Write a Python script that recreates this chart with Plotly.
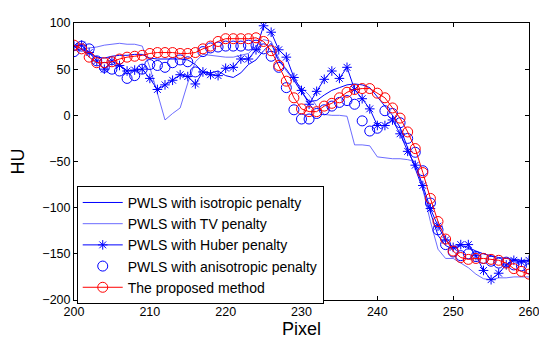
import plotly.graph_objects as go

pixel = list(range(200, 261))

isotropic = [70, 72, 68, 63, 62, 64, 65, 65, 66, 66,
             62, 61, 61, 61, 61, 60, 55, 47, 46, 48,
             43, 41, 46, 55, 60, 70, 78, 59, 50, 38,
             25, 15, 16, 22, 27, 30, 33, 34, 33, 30,
             20, 10, 0, -13, -35, -58, -80, -105, -130, -141,
             -145, -141, -143, -147, -150, -152, -154, -155, -156, -157,
             -158]

tv = [70, 72, 73, 74, 76, 77, 78, 77, 77, 75,
      52, 24, -5, 2, 8, 35, 58, 66, 65, 64,
      63, 63, 65, 67, 75, 82, 80, 62, 48, 38,
      30, 22, 10, 1, 0, 0, -1, -32, -32, -33,
      -45, -46, -47, -47, -48, -50, -80, -115, -145, -155,
      -155, -160, -165, -172, -177, -178, -176, -176, -175, -175,
      -175]

huber = [75, 76, 68, 59, 50, 59, 54, 48, 49, 50,
         40, 28, 33, 38, 44, 42, 34, 47, 44, 43,
         51, 52, 61, 61, 71, 97, 90, 71, 63, 41,
         27, 12, 26, 39, 48, 40, 52, 28, 18, 7,
         -11, -11, -5, -20, -39, -54, -76, -101, -120, -135,
         -143, -140, -140, -152, -168, -178, -171, -162, -157, -159,
         -157]

anisotropic = [69, 75, 72, 59, 52, 50, 48, 40, 43, 50,
               55, 54, 52, 57, 60, 58, 47, 69, 73, 74,
               75, 75, 75, 76, 76, 72, 64, 52, 30, 6,
               -4, -4, 2, 6, 10, 14, 16, 12, -6, -17,
               -14, 5, 2, -8, -25, -40, -60, -95, -124, -140,
               -148, -152, -150, -153, -155, -158, -160, -159, -162, -163,
               -166]

proposed = [76, 72, 63, 57, 57, 58, 61, 63, 64, 65,
            67, 68, 68, 68, 67, 67, 68, 72, 75, 80,
            83, 83, 83, 83, 84, 80, 70, 54, 37, 19,
            7, 4, 4, 10, 13, 19, 25, 28, 29, 29,
            24, 19, 8, -3, -18, -36, -62, -90, -115, -134,
            -147, -154, -156, -155, -155, -156, -157, -160, -166, -169,
            -172]

x_ticks = [200, 210, 220, 230, 240, 250, 260]
y_ticks = [-200, -150, -100, -50, 0, 50, 100]

BLUE = "#0000FF"
RED = "#FF0000"
FONT = "Liberation Sans, Arial"

fig = go.Figure()
fig.add_trace(go.Scatter(x=pixel, y=isotropic, mode="lines",
                         line=dict(color=BLUE, width=1),
                         name="PWLS with isotropic penalty"))
fig.add_trace(go.Scatter(x=pixel, y=tv, mode="lines",
                         line=dict(color="rgb(70,70,255)", width=0.8),
                         name="PWLS with TV penalty"))
fig.add_trace(go.Scatter(x=pixel, y=huber, mode="lines+markers",
                         line=dict(color=BLUE, width=1),
                         marker=dict(symbol="asterisk-open", size=8,
                                     line=dict(color=BLUE, width=1)),
                         name="PWLS with Huber penalty"))
fig.add_trace(go.Scatter(x=pixel, y=anisotropic, mode="markers",
                         marker=dict(symbol="circle-open", size=10,
                                     color=BLUE, line=dict(color=BLUE, width=1)),
                         name="PWLS with anisotropic penalty"))
fig.add_trace(go.Scatter(x=pixel, y=proposed, mode="lines+markers",
                         line=dict(color=RED, width=1),
                         marker=dict(symbol="circle-open", size=10,
                                     color=RED, line=dict(color=RED, width=1)),
                         name="The proposed method"))

axis_common = dict(showline=True, linecolor="black", linewidth=1,
                   mirror="ticks", ticks="inside", ticklen=4,
                   tickcolor="black", showgrid=False, zeroline=False,
                   ticklabeloverflow="allow",
                   tickfont=dict(family=FONT, size=12.5, color="black"))

# page body has an 8px default margin, so the figure is shrunk by 8px
fig.update_layout(
    width=539, height=339,
    margin=dict(l=59, r=10, t=8, b=47),
    paper_bgcolor="white", plot_bgcolor="white",
    xaxis=dict(range=[200, 260], tickvals=x_ticks,
               title=dict(text="Pixel", standoff=0,
                          font=dict(family=FONT, size=18, color="black")),
               **axis_common),
    yaxis=dict(range=[-200, 100], tickvals=y_ticks,
               title=dict(text="HU", standoff=14,
                          font=dict(family=FONT, size=18, color="black")),
               **axis_common),
    legend=dict(x=0.006, y=0.412, xanchor="left", yanchor="top",
                bgcolor="white", bordercolor="black", borderwidth=1,
                itemwidth=40, tracegroupgap=0,
                font=dict(family=FONT, size=14, color="black")),
    showlegend=True,
)

fig.write_html("out.html")
